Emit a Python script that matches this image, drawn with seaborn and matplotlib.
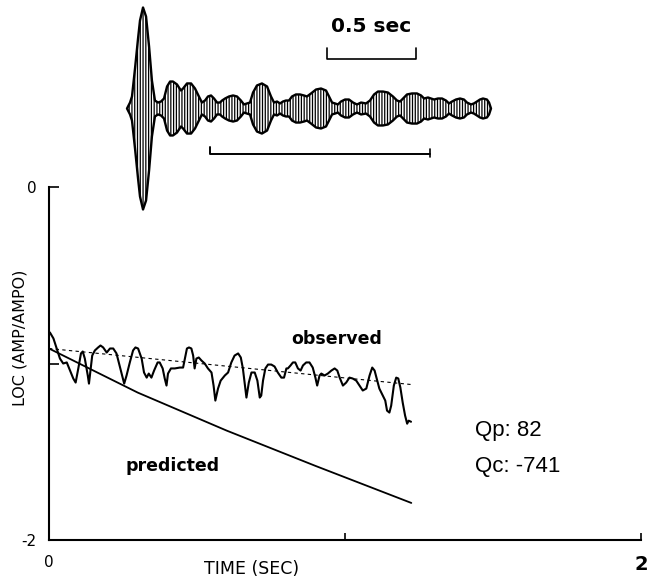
import matplotlib
matplotlib.use("Agg")
import matplotlib.pyplot as plt
import seaborn as sns
import pandas as pd

# ---------------- data ----------------
obs_time = [0.003, 0.015, 0.026, 0.037, 0.048, 0.060, 0.071, 0.082, 0.090, 0.099,
            0.108, 0.114, 0.121, 0.131, 0.135, 0.141, 0.146, 0.155, 0.166, 0.174,
            0.183, 0.195, 0.206, 0.217, 0.228, 0.240, 0.249, 0.254, 0.262, 0.273,
            0.284, 0.292, 0.301, 0.313, 0.321, 0.330, 0.337, 0.346, 0.355, 0.367,
            0.374, 0.384, 0.391, 0.397, 0.402, 0.412, 0.425, 0.442, 0.453, 0.459,
            0.466, 0.473, 0.481, 0.487, 0.492, 0.498, 0.506, 0.515, 0.526, 0.537,
            0.549, 0.556, 0.562, 0.571, 0.580, 0.594, 0.605, 0.616, 0.627, 0.639,
            0.648, 0.655, 0.661, 0.667, 0.675, 0.684, 0.695, 0.704, 0.712, 0.717,
            0.723, 0.731, 0.740, 0.751, 0.762, 0.773, 0.785, 0.794, 0.802, 0.807,
            0.816, 0.824, 0.832, 0.841, 0.850, 0.858, 0.869, 0.880, 0.891, 0.900,
            0.906, 0.914, 0.920, 0.931, 0.942, 0.954, 0.965, 0.974, 0.982, 0.993,
            1.004, 1.015, 1.026, 1.038, 1.049, 1.060, 1.072, 1.083, 1.092, 1.100,
            1.109, 1.116, 1.128, 1.136, 1.142, 1.150, 1.156, 1.165, 1.173, 1.180,
            1.187, 1.195, 1.203, 1.210, 1.215, 1.223]
obs_logamp = [-0.824, -0.858, -0.915, -0.972, -1.000, -0.994, -1.040, -1.085, -1.108, -1.028,
              -0.943, -0.932, -0.972, -1.068, -1.114, -1.028, -0.955, -0.926, -0.909, -0.898,
              -0.909, -0.938, -0.915, -0.915, -0.943, -1.023, -1.085, -1.114, -1.068, -0.994,
              -0.926, -0.909, -0.915, -0.972, -1.051, -1.080, -1.057, -1.080, -1.040, -0.994,
              -0.994, -1.028, -1.085, -1.125, -1.057, -1.028, -1.028, -1.023, -1.023, -0.972,
              -0.915, -0.909, -0.915, -0.955, -1.028, -0.972, -0.966, -0.983, -1.000, -1.028,
              -1.051, -1.125, -1.210, -1.142, -1.097, -1.068, -1.051, -0.994, -0.955, -0.943,
              -0.966, -1.028, -1.108, -1.193, -1.108, -1.051, -1.051, -1.097, -1.193, -1.182,
              -1.097, -1.028, -1.006, -1.006, -1.017, -1.051, -1.080, -1.080, -1.028, -1.028,
              -1.011, -0.994, -0.994, -1.028, -1.040, -1.011, -0.994, -0.994, -1.023, -1.080,
              -1.125, -1.068, -1.057, -1.068, -1.057, -1.040, -1.028, -1.040, -1.080, -1.125,
              -1.108, -1.080, -1.085, -1.097, -1.125, -1.153, -1.142, -1.068, -1.023, -1.040,
              -1.097, -1.142, -1.182, -1.210, -1.267, -1.278, -1.239, -1.125, -1.080, -1.085,
              -1.136, -1.222, -1.295, -1.341, -1.324, -1.330]

fit_time = [0.0, 1.223]
fit_logamp = [-0.915, -1.119]

pred_time = [0.0, 0.3, 0.6, 0.9, 1.224]
pred_logamp = [-0.915, -1.165, -1.380, -1.580, -1.790]

# seismogram envelope (time in s, amplitude relative to the first arrival)
seis_time = [0.000, 0.017, 0.028, 0.045, 0.062, 0.073, 0.090, 0.107, 0.124, 0.140,
             0.157, 0.174, 0.191, 0.208, 0.225, 0.242, 0.258, 0.281, 0.303, 0.315,
             0.337, 0.360, 0.382, 0.404, 0.421, 0.438, 0.455, 0.472, 0.489, 0.506,
             0.522, 0.534, 0.551, 0.573, 0.596, 0.618, 0.640, 0.657, 0.674, 0.691,
             0.708, 0.730, 0.758, 0.787, 0.809, 0.826, 0.843, 0.860, 0.876, 0.893,
             0.910, 0.927, 0.949, 0.972, 0.994, 1.011, 1.034, 1.062, 1.090, 1.118,
             1.135, 1.152, 1.169, 1.185, 1.202, 1.225, 1.247, 1.270, 1.292, 1.315,
             1.343, 1.365, 1.388, 1.410, 1.438, 1.466, 1.494, 1.517, 1.534, 1.551,
             1.573, 1.601, 1.629, 1.652, 1.669, 1.691, 1.708, 1.725, 1.747, 1.770,
             1.792, 1.809, 1.826, 1.848, 1.871, 1.893, 1.910, 1.933, 1.949, 1.966,
             1.983, 2.000, 2.022, 2.034, 2.045]
seis_env = [0.000, 0.059, 0.119, 0.396, 0.693, 0.871, 1.000, 0.911, 0.614, 0.277,
            0.079, 0.059, 0.069, 0.099, 0.218, 0.267, 0.267, 0.238, 0.178, 0.198,
            0.248, 0.248, 0.198, 0.119, 0.059, 0.079, 0.119, 0.129, 0.099, 0.059,
            0.059, 0.079, 0.099, 0.119, 0.129, 0.119, 0.079, 0.040, 0.050, 0.059,
            0.158, 0.228, 0.248, 0.218, 0.119, 0.059, 0.069, 0.050, 0.069, 0.079,
            0.079, 0.119, 0.139, 0.139, 0.129, 0.119, 0.149, 0.188, 0.198, 0.178,
            0.119, 0.059, 0.050, 0.040, 0.069, 0.089, 0.089, 0.059, 0.040, 0.059,
            0.050, 0.079, 0.139, 0.168, 0.168, 0.158, 0.119, 0.079, 0.069, 0.099,
            0.139, 0.149, 0.149, 0.129, 0.099, 0.109, 0.099, 0.089, 0.099, 0.099,
            0.079, 0.050, 0.069, 0.089, 0.099, 0.089, 0.059, 0.040, 0.050, 0.069,
            0.089, 0.099, 0.089, 0.059, 0.000]
window = [0.466, 1.702]
scale_start = 1.124
scale_len = 0.5

x_ticks = [0, 1, 2]
x_ticklabels = ["0", "", "2"]
y_ticks = [-2, -1, 0]
y_ticklabels = ["-2", "", "0"]
qp_value = 82
qc_value = -741

obs_df = pd.DataFrame({"time": obs_time, "logamp": obs_logamp})
fit_df = pd.DataFrame({"time": fit_time, "logamp": fit_logamp})
pred_df = pd.DataFrame({"time": pred_time, "logamp": pred_logamp})

# ---------------- style ----------------
sns.set_style("white")
plt.rcParams["font.family"] = ["DejaVu Sans"]
plt.rcParams["hatch.linewidth"] = 0.9
for key in ["text.color", "axes.labelcolor", "xtick.color", "ytick.color", "axes.edgecolor"]:
    plt.rcParams[key] = "black"

W, H = 656, 579
fig = plt.figure(figsize=(W / 100, H / 100), dpi=100)

# main axes: x 49..641 px, y 187..540 px
ax = fig.add_axes([49 / W, 1 - 540 / H, (641 - 49) / W, (540 - 187) / H])
sns.lineplot(data=obs_df, x="time", y="logamp", ax=ax, color="black", lw=1.5,
             estimator=None, sort=False)
sns.lineplot(data=fit_df, x="time", y="logamp", ax=ax, color="black", lw=0.8,
             linestyle=(0, (3, 3)), estimator=None, sort=False)
sns.lineplot(data=pred_df, x="time", y="logamp", ax=ax, color="black", lw=1.3,
             estimator=None, sort=False)

ax.set_xlim(0, 2)
ax.set_ylim(-2, 0)
for s in ["top", "right"]:
    ax.spines[s].set_visible(False)
for s in ["left", "bottom"]:
    ax.spines[s].set_linewidth(1.5)
    ax.spines[s].set_color("black")

ax.set_xticks(x_ticks, x_ticklabels)
ax.set_yticks(y_ticks, y_ticklabels)
ax.tick_params(axis="both", direction="in", width=1.2, color="black",
               labelsize=11, labelcolor="black", bottom=True, left=True)
ax.tick_params(axis="y", pad=9, length=7)
ax.tick_params(axis="x", pad=11, length=5)
xl = ax.get_xticklabels()
xl[2].set_fontweight("bold")
xl[2].set_fontsize(14)

ax.set_xlabel("TIME (SEC)", fontsize=12.5, color="black")
ax.xaxis.set_label_coords((252 - 49) / 592, -(569 - 540) / 353)
ax.xaxis.label.set_va("center")
ax.set_ylabel("LOC (AMP/AMPO)", fontsize=11.5, color="black")
ax.yaxis.set_label_coords((20 - 49) / 592, (540 - 338) / 353)
ax.yaxis.label.set_va("center")

ax.text(0.971, -0.864, "observed", fontsize=12.5, fontweight="bold", ha="center",
        va="center", color="black")
ax.text(0.418, -1.580, "predicted", fontsize=12.5, fontweight="bold", ha="center",
        va="center", color="black")
ax.text(1.440, -1.381, f"Qp: {qp_value}", fontsize=16, family="Liberation Sans",
        ha="left", va="center", color="black")
ax.text(1.440, -1.585, f"Qc: {qc_value}", fontsize=16, family="Liberation Sans",
        ha="left", va="center", color="black")

# ---------------- seismogram inset ----------------
ax2 = fig.add_axes([0, 1 - 217 / H, 1, 217 / H], zorder=5)
ax2.set_xlim(-127 / 178, (W - 127) / 178)
ax2.set_ylim(-1.074, 1.074)
ax2.axis("off")
neg_env = [-e for e in seis_env]
ax2.fill_between(seis_time, neg_env, seis_env, facecolor="white", edgecolor="black",
                 hatch="||||||", lw=1.7)
ax2.plot([scale_start, scale_start, scale_start + scale_len, scale_start + scale_len],
         [0.60, 0.49, 0.49, 0.60], color="black", lw=1.2)
ax2.text(scale_start + scale_len / 2, 0.807, "0.5 sec", fontsize=14.5, fontweight="bold",
         ha="center", va="center", color="black")
ax2.plot([window[0], window[0], window[1]], [-0.38, -0.45, -0.45], color="black", lw=1.4)
ax2.plot([window[1], window[1]], [-0.40, -0.48], color="black", lw=1.2)

fig.savefig("out.png", dpi=100)
